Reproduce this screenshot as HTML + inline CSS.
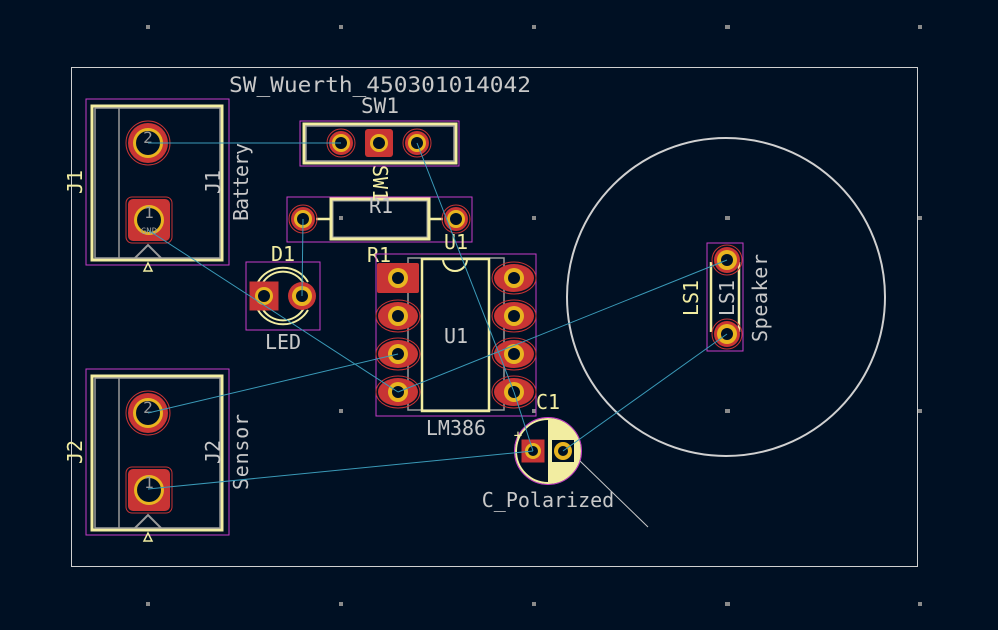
<!DOCTYPE html>
<html><head><meta charset="utf-8"><style>
html,body{margin:0;padding:0;background:#001023;}
svg{display:block}
text{font-family:"DejaVu Sans Mono","Liberation Mono",monospace;}
</style></head><body>
<svg width="998" height="630" viewBox="0 0 998 630" xmlns="http://www.w3.org/2000/svg">
<rect width="998" height="630" fill="#001023"/>
<g fill="#8a8a8a">
<rect x="146" y="25" width="4" height="4"/><rect x="339" y="25" width="4" height="4"/><rect x="532" y="25" width="4" height="4"/><rect x="725" y="25" width="5" height="4"/><rect x="918" y="25" width="4" height="4"/>
<rect x="339" y="216" width="4" height="4"/><rect x="532" y="216" width="4" height="4"/><rect x="725" y="216" width="5" height="4"/><rect x="918" y="216" width="4" height="4"/>
<rect x="339" y="409" width="4" height="4"/><rect x="532" y="409" width="4" height="4"/><rect x="725" y="409" width="5" height="4"/><rect x="918" y="409" width="4" height="4"/>
<rect x="146" y="602" width="4" height="4"/><rect x="339" y="602" width="4" height="4"/><rect x="532" y="602" width="4" height="4"/><rect x="725" y="602" width="5" height="4"/><rect x="918" y="602" width="4" height="4"/>
</g>
<rect x="71.5" y="67.5" width="846" height="499" fill="none" stroke="#d0d0d0" stroke-width="1"/>
<circle cx="726" cy="297" r="159" fill="none" stroke="#d0d0d0" stroke-width="2"/>

<!-- J1 -->
<g id="j">
<rect x="86" y="99" width="143" height="166" fill="none" stroke="#c83cc8" stroke-width="1"/>
<rect x="92" y="106" width="130" height="154" fill="none" stroke="#f2eda1" stroke-width="3"/>
<rect x="95" y="108" width="125" height="150" fill="none" stroke="#9a9a9a" stroke-width="1.5"/>
<line x1="119" y1="108" x2="119" y2="258" stroke="#9a9a9a" stroke-width="1.5"/>
<polyline points="135,258 148,245 161,258" fill="none" stroke="#9a9a9a" stroke-width="2"/>
<polygon points="148,263 144,271 152,271" fill="none" stroke="#f2eda1" stroke-width="1.5"/>
<circle cx="148" cy="143" r="22" fill="none" stroke="#c83434" stroke-width="1"/>
<circle cx="148" cy="143" r="20" fill="#c83434"/>
<circle cx="148" cy="143" r="15" fill="#e8b420"/>
<circle cx="148" cy="143" r="12" fill="#001023"/>
<text x="148" y="143" font-size="16" fill="#9a9a9a" text-anchor="middle">2</text>
<rect x="126" y="197" width="46" height="46" rx="6" fill="none" stroke="#c83434" stroke-width="1"/>
<rect x="128" y="199" width="42" height="42" rx="5" fill="#c83434"/>
<circle cx="149" cy="220" r="15" fill="#e8b420"/>
<circle cx="149" cy="220" r="12" fill="#001023"/>
<text x="149" y="218" font-size="16" fill="#9a9a9a" text-anchor="middle">1</text>
</g>
<use href="#j" transform="translate(0,270)"/>
<text x="149" y="234" font-size="9" fill="#9a9a9a" text-anchor="middle">GND</text>

<text transform="translate(82,182) rotate(-90)" font-size="20" fill="#f2eda1" text-anchor="middle">J1</text>
<text transform="translate(220,182) rotate(-90)" font-size="20" fill="#c8c8c8" text-anchor="middle">J1</text>
<text transform="translate(248,182) rotate(-90)" font-size="20" fill="#c8c8c8" text-anchor="middle" textLength="78">Battery</text>
<text transform="translate(82,452) rotate(-90)" font-size="20" fill="#f2eda1" text-anchor="middle">J2</text>
<text transform="translate(220,452) rotate(-90)" font-size="20" fill="#c8c8c8" text-anchor="middle">J2</text>
<text transform="translate(248,452) rotate(-90)" font-size="20" fill="#c8c8c8" text-anchor="middle" textLength="76">Sensor</text>

<!-- SW1 -->
<text x="229" y="92" font-size="21" fill="#c8c8c8" textLength="302" lengthAdjust="spacingAndGlyphs">SW_Wuerth_450301014042</text>
<text x="380" y="113" font-size="21" fill="#c8c8c8" text-anchor="middle">SW1</text>
<rect x="300" y="121" width="159" height="45" fill="none" stroke="#c83cc8" stroke-width="1"/>
<rect x="304" y="124" width="152" height="39" fill="none" stroke="#f2eda1" stroke-width="3"/>
<rect x="306" y="126" width="148" height="35" fill="none" stroke="#9a9a9a" stroke-width="1.5"/>
<g>
<circle cx="341" cy="143" r="14" fill="none" stroke="#c83434"/><circle cx="341" cy="143" r="12" fill="#c83434"/><circle cx="341" cy="143" r="9" fill="#e8b420"/><circle cx="341" cy="143" r="6" fill="#001023"/>
<rect x="365" y="129" width="28" height="28" rx="3" fill="#c83434"/><circle cx="379" cy="143" r="9" fill="#e8b420"/><circle cx="379" cy="143" r="6" fill="#001023"/>
<circle cx="417" cy="143" r="14" fill="none" stroke="#c83434"/><circle cx="417" cy="143" r="12" fill="#c83434"/><circle cx="417" cy="143" r="9" fill="#e8b420"/><circle cx="417" cy="143" r="6" fill="#001023"/>
</g>

<!-- R1 -->
<rect x="287" y="197" width="185" height="45" fill="none" stroke="#c83cc8" stroke-width="1"/>
<rect x="331" y="199" width="98" height="40" fill="none" stroke="#f2eda1" stroke-width="3"/>
<rect x="333" y="201" width="94" height="36" fill="none" stroke="#9a9a9a" stroke-width="1"/>
<line x1="316" y1="219" x2="330" y2="219" stroke="#f2eda1" stroke-width="2.5"/>
<line x1="430" y1="219" x2="443" y2="219" stroke="#f2eda1" stroke-width="2.5"/>
<circle cx="303" cy="219" r="14" fill="none" stroke="#c83434"/><circle cx="303" cy="219" r="12" fill="#c83434"/><circle cx="303" cy="219" r="9" fill="#e8b420"/><circle cx="303" cy="219" r="6" fill="#001023"/>
<circle cx="456" cy="219" r="14" fill="none" stroke="#c83434"/><circle cx="456" cy="219" r="12" fill="#c83434"/><circle cx="456" cy="219" r="9" fill="#e8b420"/><circle cx="456" cy="219" r="6" fill="#001023"/>
<text x="381" y="213" font-size="20" fill="#c8c8c8" text-anchor="middle">R1</text>
<text transform="translate(373,183) rotate(90)" font-size="20" fill="#f2eda1" text-anchor="middle">SW1</text>
<text x="379" y="262" font-size="20" fill="#f2eda1" text-anchor="middle">R1</text>
<text x="456" y="249" font-size="20" fill="#f2eda1" text-anchor="middle">U1</text>

<!-- D1 -->
<text x="283" y="261" font-size="20" fill="#f2eda1" text-anchor="middle">D1</text>
<rect x="246" y="262" width="74" height="68" fill="none" stroke="#c83cc8" stroke-width="1"/>
<path d="M258,282 A29,29 0 0 1 308,282" fill="none" stroke="#f2eda1" stroke-width="2"/>
<path d="M258,310 A29,29 0 0 0 308,310" fill="none" stroke="#f2eda1" stroke-width="2"/>
<path d="M262,284 A24,24 0 0 1 304,284" fill="none" stroke="#f2eda1" stroke-width="2"/>
<path d="M262,308 A24,24 0 0 0 304,308" fill="none" stroke="#f2eda1" stroke-width="2"/>
<rect x="250" y="282" width="28" height="28" fill="#c83434" stroke="#c83434"/>
<circle cx="264" cy="296" r="9" fill="#e8b420"/><circle cx="264" cy="296" r="6" fill="#001023"/>
<circle cx="302" cy="296" r="14" fill="#c83434"/><circle cx="302" cy="296" r="10" fill="#e8b420"/><circle cx="302" cy="296" r="6" fill="#001023"/>
<text x="283" y="349" font-size="20" fill="#c8c8c8" text-anchor="middle">LED</text>

<!-- U1 -->
<rect x="376" y="254" width="160" height="162" fill="none" stroke="#c83cc8" stroke-width="1"/>
<rect x="408" y="258" width="96" height="152" fill="none" stroke="#9a9a9a" stroke-width="1.5"/>
<rect x="422" y="259" width="67" height="152" fill="none" stroke="#f2eda1" stroke-width="2.5"/>
<path d="M443,259 A12,12 0 0 0 467,259" fill="none" stroke="#f2eda1" stroke-width="2"/>
<g id="pr">
<ellipse cx="398" cy="316" rx="22" ry="16" fill="none" stroke="#c83434"/>
<ellipse cx="398" cy="316" rx="20" ry="14" fill="#c83434"/><circle cx="398" cy="316" r="10" fill="#e8b420"/><circle cx="398" cy="316" r="6" fill="#001023"/>
</g>
<use href="#pr" transform="translate(0,38)"/>
<use href="#pr" transform="translate(0,76)"/>
<use href="#pr" transform="translate(116,-38)"/>
<use href="#pr" transform="translate(116,0)"/>
<use href="#pr" transform="translate(116,38)"/>
<use href="#pr" transform="translate(116,76)"/>
<rect x="377" y="263" width="42" height="30" rx="2" fill="#c83434"/>
<circle cx="398" cy="278" r="10" fill="#e8b420"/><circle cx="398" cy="278" r="6" fill="#001023"/>
<text x="456" y="343" font-size="20" fill="#c8c8c8" text-anchor="middle">U1</text>
<text x="456" y="435" font-size="20" fill="#c8c8c8" text-anchor="middle">LM386</text>

<!-- C1 -->
<text x="548" y="409" font-size="20" fill="#f2eda1" text-anchor="middle">C1</text>
<path d="M548,419 A32,32 0 0 1 548,483 Z" fill="#f2eda1"/>
<circle cx="548" cy="451" r="32" fill="none" stroke="#f2eda1" stroke-width="2"/>
<circle cx="548" cy="451" r="33.5" fill="none" stroke="#c83cc8" stroke-width="1"/>
<text x="518" y="440" font-size="14" fill="#f2eda1" text-anchor="middle">+</text>
<rect x="522" y="440" width="22" height="22" fill="#c83434" stroke="#c83434"/>
<circle cx="533" cy="451" r="8" fill="#e8b420"/><circle cx="533" cy="451" r="5" fill="#001023"/>
<rect x="552" y="440" width="22" height="22" fill="#001023"/>
<circle cx="563" cy="451" r="9" fill="#e8b420"/><circle cx="563" cy="451" r="5" fill="#001023"/>
<text x="548" y="507" font-size="20" fill="#c8c8c8" text-anchor="middle">C_Polarized</text>
<line x1="580" y1="461" x2="648" y2="527" stroke="#c8c8c8" stroke-width="1"/>

<!-- LS1 -->
<rect x="707" y="243" width="36" height="108" fill="none" stroke="#c83cc8" stroke-width="1"/>
<line x1="711" y1="262" x2="711" y2="332" stroke="#f2eda1" stroke-width="2.5"/>
<line x1="739" y1="262" x2="739" y2="332" stroke="#f2eda1" stroke-width="2.5"/>
<circle cx="727" cy="260" r="15" fill="none" stroke="#c83434"/><circle cx="727" cy="260" r="13" fill="#c83434"/><circle cx="727" cy="260" r="10" fill="#e8b420"/><circle cx="727" cy="260" r="6" fill="#001023"/>
<circle cx="727" cy="334" r="15" fill="none" stroke="#c83434"/><circle cx="727" cy="334" r="13" fill="#c83434"/><circle cx="727" cy="334" r="10" fill="#e8b420"/><circle cx="727" cy="334" r="6" fill="#001023"/>
<text transform="translate(698,298) rotate(-90)" font-size="20" fill="#f2eda1" text-anchor="middle">LS1</text>
<text transform="translate(734,298) rotate(-90)" font-size="20" fill="#c8c8c8" text-anchor="middle">LS1</text>
<text transform="translate(767,298) rotate(-90)" font-size="20" fill="#c8c8c8" text-anchor="middle" textLength="88">Speaker</text>

<!-- ratsnest -->
<g stroke="#3a9ab8" stroke-width="1" fill="none">
<line x1="148" y1="143" x2="341" y2="143"/>
<line x1="417" y1="143" x2="514" y2="392"/>
<line x1="514" y1="392" x2="533" y2="451"/>
<line x1="148" y1="230" x2="398" y2="392"/>
<line x1="302" y1="296" x2="303" y2="219"/>
<line x1="148" y1="413" x2="398" y2="354"/>
<line x1="148" y1="489" x2="533" y2="451"/>
<line x1="398" y1="392" x2="727" y2="260"/>
<line x1="563" y1="451" x2="727" y2="334"/>
</g>
</svg>
</body></html>
